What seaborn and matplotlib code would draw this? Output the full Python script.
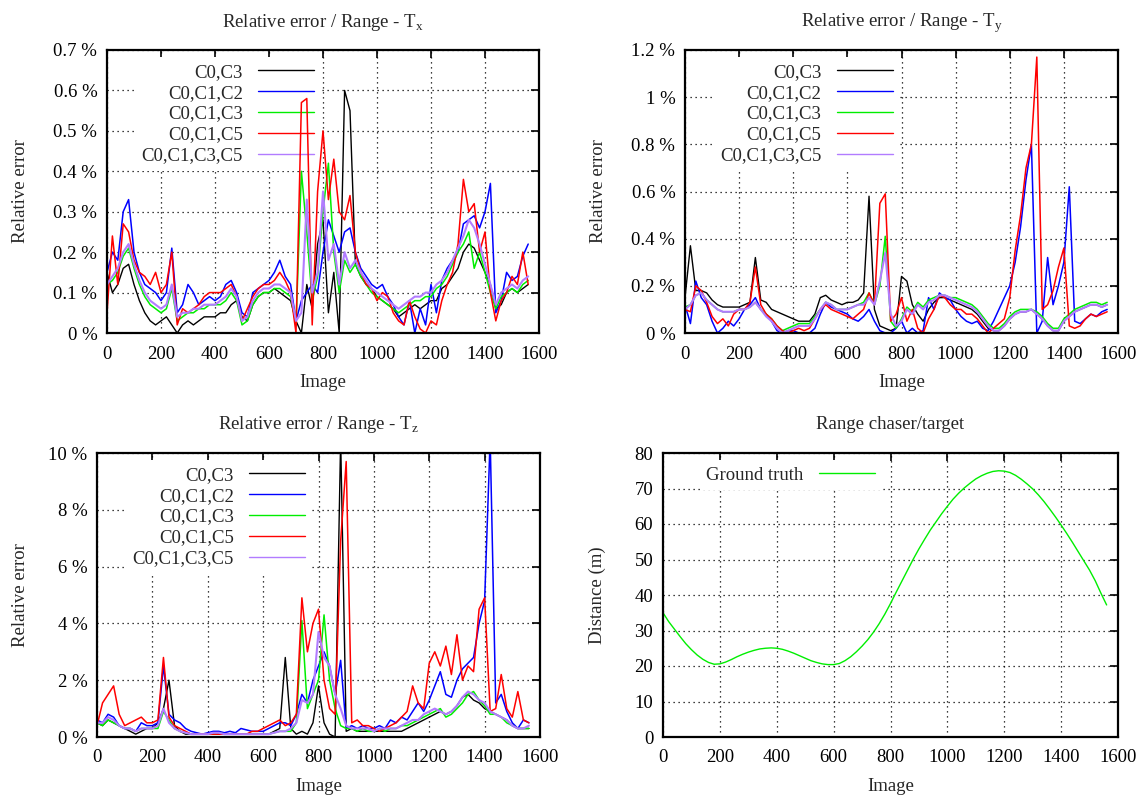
import numpy as np
import matplotlib
matplotlib.use('Agg')
import matplotlib.pyplot as plt
from matplotlib.ticker import FuncFormatter, MultipleLocator
import seaborn as sns

# image index, one sample every 20 images
IMAGE = np.arange(0, 1580, 20)

METHODS = ['C0,C3', 'C0,C1,C2', 'C0,C1,C3', 'C0,C1,C5', 'C0,C1,C3,C5']
COLORS = ['#000000', '#0000ff', '#00ee00', '#ff0000', '#b27cff']
WIDTHS = [1.0, 1.1, 1.1, 1.1, 1.5]

# Relative error / Range - Tx (%)
tx_c0c3 = [0.15, 0.10, 0.12, 0.16, 0.17, 0.12, 0.08, 0.05, 0.03, 0.02,
           0.03, 0.04, 0.02, 0.00, 0.02, 0.03, 0.02, 0.03, 0.04, 0.04,
           0.04, 0.05, 0.05, 0.07, 0.08, 0.04, 0.03, 0.07, 0.09, 0.10,
           0.10, 0.11, 0.10, 0.09, 0.08, 0.03, 0.00, 0.12, 0.06, 0.22,
           0.28, 0.05, 0.15, 0.00, 0.60, 0.55, 0.17, 0.14, 0.12, 0.11,
           0.09, 0.08, 0.07, 0.06, 0.04, 0.05, 0.06, 0.07, 0.06, 0.07,
           0.08, 0.08, 0.11, 0.12, 0.14, 0.16, 0.20, 0.22, 0.21, 0.18,
           0.15, 0.12, 0.06, 0.07, 0.10, 0.11, 0.10, 0.11, 0.12]
tx_c0c1c2 = [0.15, 0.20, 0.18, 0.30, 0.33, 0.20, 0.15, 0.12, 0.11, 0.10,
             0.08, 0.10, 0.21, 0.05, 0.07, 0.12, 0.10, 0.07, 0.08, 0.09,
             0.08, 0.09, 0.12, 0.13, 0.10, 0.05, 0.04, 0.10, 0.11, 0.12,
             0.13, 0.15, 0.18, 0.14, 0.12, 0.03, 0.08, 0.10, 0.12, 0.10,
             0.20, 0.28, 0.24, 0.20, 0.25, 0.26, 0.20, 0.16, 0.14, 0.12,
             0.11, 0.12, 0.09, 0.07, 0.04, 0.02, 0.08, 0.00, 0.06, 0.02,
             0.12, 0.05, 0.13, 0.16, 0.18, 0.20, 0.27, 0.28, 0.29, 0.26,
             0.30, 0.37, 0.05, 0.08, 0.15, 0.13, 0.14, 0.19, 0.22]
tx_c0c1c3 = [0.12, 0.13, 0.15, 0.19, 0.21, 0.16, 0.12, 0.09, 0.07, 0.06,
             0.05, 0.06, 0.11, 0.03, 0.04, 0.05, 0.05, 0.06, 0.06, 0.07,
             0.07, 0.07, 0.08, 0.10, 0.08, 0.02, 0.03, 0.07, 0.09, 0.10,
             0.10, 0.11, 0.11, 0.10, 0.09, 0.02, 0.40, 0.25, 0.08, 0.14,
             0.30, 0.42, 0.20, 0.10, 0.18, 0.15, 0.17, 0.14, 0.12, 0.10,
             0.09, 0.08, 0.07, 0.06, 0.05, 0.06, 0.07, 0.08, 0.08, 0.09,
             0.09, 0.11, 0.12, 0.14, 0.17, 0.20, 0.22, 0.25, 0.16, 0.20,
             0.15, 0.10, 0.06, 0.09, 0.10, 0.11, 0.10, 0.12, 0.13]
tx_c0c1c5 = [0.05, 0.24, 0.12, 0.27, 0.25, 0.18, 0.15, 0.14, 0.12, 0.15,
             0.10, 0.12, 0.20, 0.02, 0.06, 0.05, 0.06, 0.07, 0.09, 0.10,
             0.10, 0.10, 0.11, 0.12, 0.09, 0.03, 0.06, 0.09, 0.11, 0.12,
             0.12, 0.13, 0.15, 0.13, 0.10, 0.00, 0.57, 0.58, 0.02, 0.35,
             0.50, 0.33, 0.43, 0.30, 0.28, 0.34, 0.20, 0.15, 0.12, 0.11,
             0.08, 0.10, 0.09, 0.05, 0.03, 0.02, 0.08, 0.04, 0.01, 0.00,
             0.03, 0.02, 0.08, 0.12, 0.15, 0.22, 0.38, 0.30, 0.32, 0.20,
             0.25, 0.10, 0.03, 0.08, 0.10, 0.14, 0.12, 0.20, 0.12]
tx_c0c1c3c5 = [0.12, 0.14, 0.16, 0.20, 0.22, 0.17, 0.13, 0.10, 0.08, 0.07,
               0.06, 0.07, 0.12, 0.04, 0.05, 0.05, 0.06, 0.06, 0.07, 0.07,
               0.07, 0.08, 0.09, 0.11, 0.09, 0.03, 0.04, 0.08, 0.10, 0.11,
               0.11, 0.12, 0.12, 0.11, 0.10, 0.03, 0.05, 0.33, 0.10, 0.15,
               0.35, 0.18, 0.22, 0.12, 0.20, 0.16, 0.18, 0.15, 0.13, 0.11,
               0.10, 0.09, 0.08, 0.07, 0.06, 0.07, 0.08, 0.09, 0.09, 0.10,
               0.10, 0.12, 0.13, 0.15, 0.18, 0.21, 0.24, 0.28, 0.26, 0.22,
               0.17, 0.12, 0.07, 0.10, 0.11, 0.12, 0.11, 0.13, 0.14]

# Relative error / Range - Ty (%)
ty_c0c3 = [0.15, 0.37, 0.18, 0.18, 0.17, 0.14, 0.12, 0.11, 0.11, 0.11,
           0.11, 0.12, 0.13, 0.32, 0.14, 0.13, 0.10, 0.09, 0.08, 0.07,
           0.06, 0.05, 0.05, 0.05, 0.08, 0.15, 0.16, 0.14, 0.13, 0.12,
           0.13, 0.13, 0.14, 0.17, 0.58, 0.10, 0.03, 0.02, 0.01, 0.02,
           0.24, 0.22, 0.12, 0.08, 0.05, 0.10, 0.13, 0.15, 0.15, 0.14,
           0.13, 0.12, 0.11, 0.10, 0.08, 0.05, 0.02, 0.01, 0.01, 0.03,
           0.06, 0.08, 0.09, 0.09, 0.10, 0.08, 0.06, 0.03, 0.01, 0.01,
           0.05, 0.07, 0.09, 0.10, 0.11, 0.12, 0.12, 0.11, 0.12]
ty_c0c1c2 = [0.12, 0.04, 0.22, 0.15, 0.12, 0.05, 0.00, 0.02, 0.05, 0.03,
             0.06, 0.10, 0.12, 0.15, 0.10, 0.08, 0.05, 0.01, 0.00, 0.01,
             0.01, 0.00, 0.00, 0.00, 0.02, 0.08, 0.13, 0.11, 0.10, 0.09,
             0.08, 0.06, 0.05, 0.07, 0.10, 0.05, 0.01, 0.00, 0.00, 0.02,
             0.05, 0.00, 0.02, 0.00, 0.01, 0.15, 0.10, 0.17, 0.15, 0.14,
             0.10, 0.07, 0.05, 0.04, 0.05, 0.02, 0.01, 0.05, 0.10, 0.15,
             0.20, 0.30, 0.45, 0.65, 0.80, 0.00, 0.05, 0.32, 0.12, 0.20,
             0.30, 0.62, 0.05, 0.04, 0.06, 0.08, 0.07, 0.09, 0.10]
ty_c0c1c3 = [0.11, 0.12, 0.16, 0.17, 0.14, 0.12, 0.10, 0.09, 0.09, 0.09,
             0.10, 0.10, 0.11, 0.13, 0.10, 0.08, 0.06, 0.03, 0.01, 0.02,
             0.03, 0.04, 0.04, 0.04, 0.07, 0.10, 0.13, 0.12, 0.10, 0.10,
             0.10, 0.11, 0.12, 0.13, 0.17, 0.12, 0.20, 0.41, 0.05, 0.02,
             0.06, 0.11, 0.09, 0.13, 0.11, 0.14, 0.15, 0.16, 0.16, 0.15,
             0.15, 0.14, 0.13, 0.12, 0.10, 0.07, 0.04, 0.02, 0.02, 0.04,
             0.07, 0.09, 0.10, 0.10, 0.10, 0.09, 0.07, 0.04, 0.02, 0.02,
             0.06, 0.08, 0.10, 0.11, 0.12, 0.13, 0.13, 0.12, 0.13]
ty_c0c1c5 = [0.10, 0.09, 0.20, 0.18, 0.13, 0.07, 0.04, 0.06, 0.03, 0.08,
             0.10, 0.10, 0.13, 0.28, 0.12, 0.08, 0.06, 0.03, 0.01, 0.00,
             0.01, 0.02, 0.01, 0.02, 0.06, 0.10, 0.12, 0.10, 0.09, 0.08,
             0.07, 0.06, 0.08, 0.10, 0.17, 0.12, 0.55, 0.59, 0.05, 0.08,
             0.15, 0.05, 0.10, 0.02, 0.00, 0.06, 0.10, 0.16, 0.15, 0.12,
             0.10, 0.10, 0.08, 0.08, 0.06, 0.03, 0.00, 0.02, 0.04, 0.06,
             0.15, 0.35, 0.50, 0.70, 0.80, 1.17, 0.10, 0.12, 0.18, 0.28,
             0.36, 0.03, 0.02, 0.03, 0.06, 0.08, 0.07, 0.08, 0.09]
ty_c0c1c3c5 = [0.10, 0.12, 0.16, 0.17, 0.14, 0.12, 0.10, 0.09, 0.09, 0.09,
               0.10, 0.10, 0.11, 0.13, 0.10, 0.07, 0.05, 0.02, 0.00, 0.01,
               0.02, 0.03, 0.03, 0.03, 0.06, 0.10, 0.13, 0.12, 0.10, 0.10,
               0.10, 0.11, 0.12, 0.12, 0.15, 0.12, 0.22, 0.34, 0.08, 0.03,
               0.05, 0.10, 0.08, 0.12, 0.10, 0.13, 0.14, 0.16, 0.16, 0.15,
               0.14, 0.13, 0.12, 0.11, 0.09, 0.06, 0.03, 0.01, 0.01, 0.03,
               0.06, 0.08, 0.09, 0.09, 0.10, 0.08, 0.06, 0.03, 0.01, 0.01,
               0.05, 0.07, 0.09, 0.10, 0.11, 0.12, 0.12, 0.11, 0.12]

# Relative error / Range - Tz (%)
tz_c0c3 = [0.5, 0.4, 0.6, 0.5, 0.4, 0.3, 0.2, 0.1, 0.2, 0.3,
           0.3, 0.5, 1.0, 2.0, 0.4, 0.2, 0.1, 0.1, 0.1, 0.1,
           0.1, 0.1, 0.1, 0.1, 0.1, 0.1, 0.1, 0.1, 0.1, 0.1,
           0.1, 0.1, 0.2, 0.3, 2.8, 0.3, 0.1, 0.2, 0.1, 0.5,
           1.8, 0.5, 0.1, 0.0, 10.5, 0.2, 0.3, 0.2, 0.2, 0.2,
           0.2, 0.2, 0.2, 0.2, 0.2, 0.2, 0.3, 0.4, 0.5, 0.6,
           0.7, 0.8, 0.9, 0.8, 0.9, 1.1, 1.4, 1.5, 1.3, 1.2,
           1.0, 0.9, 0.8, 0.7, 0.6, 0.4, 0.3, 0.3, 0.3]
tz_c0c1c2 = [0.6, 0.5, 0.8, 0.7, 0.4, 0.3, 0.3, 0.2, 0.5, 0.4,
             0.4, 0.5, 2.5, 0.8, 0.6, 0.5, 0.3, 0.2, 0.15, 0.1,
             0.15, 0.2, 0.2, 0.15, 0.2, 0.15, 0.3, 0.25, 0.2, 0.2,
             0.2, 0.3, 0.4, 0.5, 0.5, 0.4, 0.8, 1.5, 1.2, 2.0,
             2.5, 3.0, 2.5, 1.5, 2.7, 0.3, 0.4, 0.3, 0.4, 0.3,
             0.3, 0.4, 0.3, 0.6, 0.5, 0.7, 0.6, 0.9, 1.2, 0.9,
             1.3, 1.8, 2.3, 1.5, 1.4, 2.0, 2.4, 2.6, 2.8, 4.0,
             4.8, 10.5, 1.2, 1.5, 0.9, 0.5, 0.3, 0.6, 0.5]
tz_c0c1c3 = [0.5, 0.4, 0.6, 0.5, 0.4, 0.3, 0.3, 0.2, 0.3, 0.3,
             0.3, 0.3, 0.9, 0.6, 0.3, 0.2, 0.15, 0.1, 0.1, 0.1,
             0.1, 0.1, 0.15, 0.1, 0.1, 0.1, 0.1, 0.1, 0.1, 0.1,
             0.1, 0.1, 0.15, 0.2, 0.2, 0.2, 0.5, 4.1, 1.0, 1.5,
             2.0, 4.3, 2.0, 1.0, 0.4, 0.3, 0.3, 0.2, 0.3, 0.2,
             0.2, 0.3, 0.2, 0.3, 0.3, 0.4, 0.4, 0.5, 0.6, 0.7,
             0.8, 0.9, 1.0, 0.7, 0.8, 1.0, 1.2, 1.5, 1.6, 1.3,
             1.1, 0.8, 0.8, 0.7, 0.5, 0.4, 0.3, 0.3, 0.3]
tz_c0c1c5 = [0.4, 1.2, 1.5, 1.8, 0.8, 0.4, 0.5, 0.6, 0.7, 0.5,
             0.5, 0.6, 2.8, 0.7, 0.4, 0.3, 0.2, 0.1, 0.1, 0.1,
             0.1, 0.1, 0.1, 0.1, 0.1, 0.1, 0.1, 0.1, 0.2, 0.2,
             0.3, 0.4, 0.5, 0.6, 0.4, 0.5, 0.8, 4.9, 3.0, 4.0,
             4.5, 2.0, 1.0, 0.8, 6.9, 9.7, 0.5, 0.6, 0.4, 0.4,
             0.3, 0.2, 0.3, 0.4, 0.5, 0.7, 0.9, 1.8, 1.2, 1.0,
             2.6, 3.0, 2.5, 3.2, 2.2, 3.6, 2.0, 2.5, 2.3, 4.5,
             4.9, 0.9, 1.0, 2.2, 1.0, 0.7, 1.6, 0.6, 0.5]
tz_c0c1c3c5 = [0.5, 0.5, 0.7, 0.6, 0.4, 0.3, 0.3, 0.2, 0.3, 0.3,
               0.3, 0.4, 1.0, 0.5, 0.3, 0.2, 0.15, 0.1, 0.1, 0.1,
               0.1, 0.15, 0.15, 0.1, 0.1, 0.1, 0.1, 0.1, 0.1, 0.1,
               0.1, 0.1, 0.15, 0.2, 0.2, 0.3, 0.5, 1.3, 1.2, 1.5,
               3.7, 2.8, 2.5, 1.5, 1.0, 0.4, 0.3, 0.3, 0.3, 0.3,
               0.2, 0.3, 0.3, 0.3, 0.3, 0.4, 0.5, 0.6, 0.6, 0.8,
               0.9, 1.0, 0.9, 0.8, 0.9, 1.1, 1.4, 1.6, 1.5, 1.3,
               1.2, 0.9, 0.8, 0.7, 0.6, 0.4, 0.3, 0.3, 0.4]

# Range chaser/target (m)
ground_truth = [35.0, 32.5, 30.4, 28.3, 26.3, 24.6, 23.1, 21.9, 21.0, 20.5,
                20.6, 21.1, 21.8, 22.6, 23.3, 23.9, 24.4, 24.8, 25.0, 25.1,
                25.0, 24.7, 24.2, 23.6, 22.9, 22.2, 21.5, 21.0, 20.6, 20.4,
                20.4, 20.7, 21.5, 22.6, 24.0, 25.6, 27.4, 29.5, 31.9, 34.6,
                37.6, 40.8, 43.9, 47.0, 50.1, 53.0, 55.7, 58.3, 60.6, 62.9,
                65.0, 67.0, 68.7, 70.2, 71.5, 72.7, 73.6, 74.3, 74.8, 75.0,
                74.9, 74.5, 73.7, 72.6, 71.3, 69.9, 68.2, 66.3, 64.2, 62.0,
                59.7, 57.3, 54.8, 52.2, 49.6, 47.0, 44.0, 40.5, 37.2]

sns.set_theme(style='white')
plt.rcParams['font.family'] = ['Liberation Serif', 'DejaVu Serif']
plt.rcParams['mathtext.fontset'] = 'custom'
plt.rcParams['mathtext.rm'] = 'Liberation Serif'
plt.rcParams['font.size'] = 13.5

fig = plt.figure(figsize=(11.42, 7.99), dpi=100)

W, H = 1142, 799


def make_axes(left, right, top, bottom):
    return fig.add_axes([left / W, 1 - bottom / H, (right - left) / W, (bottom - top) / H])


def style_axes(ax, ymax, ystep, title, ylabel, pct, ylab_x, leg_x):
    ax.set_xlim(0, 1600)
    ax.set_ylim(0, ymax)
    ax.xaxis.set_major_locator(MultipleLocator(200))
    ax.yaxis.set_major_locator(MultipleLocator(ystep))
    if pct:
        ax.yaxis.set_major_formatter(FuncFormatter(lambda v, p: '%g %%' % round(v, 3)))
    else:
        ax.yaxis.set_major_formatter(FuncFormatter(lambda v, p: '%g' % v))
    ax.tick_params(direction='in', top=True, right=True, length=6, width=1.2,
                   labelsize=13.5, pad=7, colors='black')
    ax.tick_params(axis='x', pad=9)
    ax.set_axisbelow(True)
    ax.grid(True, color='black', linestyle=(0, (1, 3)), linewidth=0.9)
    for s in ax.spines.values():
        s.set_linewidth(1.6)
        s.set_color('black')
    ax.set_xlabel('Image', fontsize=13.5)
    ax.set_ylabel(ylabel, fontsize=13.5)
    ax.xaxis.set_label_coords(0.5, -0.145)
    ax.yaxis.set_label_coords(ylab_x, 0.5)
    ax.text(0.5, 1.083, title, transform=ax.transAxes, ha='center', va='baseline',
            fontsize=13.5)
    leg = ax.legend(loc='upper right', bbox_to_anchor=(leg_x, 0.975), markerfirst=False,
                    frameon=True, fancybox=False, framealpha=1, facecolor='white',
                    edgecolor='none', borderpad=0.35, handlelength=3.0,
                    handletextpad=0.8, labelspacing=0.2, fontsize=13.5, borderaxespad=0)
    for line in leg.get_lines():
        line.set_linewidth(1.0)
    leg.set_zorder(1)


panels = [
    ((107, 539, 50, 333), [tx_c0c3, tx_c0c1c2, tx_c0c1c3, tx_c0c1c5, tx_c0c1c3c5],
     0.7, 0.1, r'Relative error / Range - T$_{\mathrm{x}}$', -0.18, 0.495),
    ((685, 1118, 50, 333), [ty_c0c3, ty_c0c1c2, ty_c0c1c3, ty_c0c1c5, ty_c0c1c3c5],
     1.2, 0.2, r'Relative error / Range - T$_{\mathrm{y}}$', -0.18, 0.495),
    ((97, 540, 453, 737), [tz_c0c3, tz_c0c1c2, tz_c0c1c3, tz_c0c1c5, tz_c0c1c3c5],
     10, 2, r'Relative error / Range - T$_{\mathrm{z}}$', -0.153, 0.485),
]

for box, series, ymax, ystep, title, ylab_x, leg_x in panels:
    ax = make_axes(*box)
    for name, color, lw, vals in zip(METHODS, COLORS, WIDTHS, series):
        sns.lineplot(x=IMAGE, y=vals, ax=ax, color=color, linewidth=lw, label=name,
                     zorder=2)
    style_axes(ax, ymax, ystep, title, 'Relative error', True, ylab_x, leg_x)

ax = make_axes(663, 1118, 453, 737)
sns.lineplot(x=IMAGE, y=ground_truth, ax=ax, color='#00ee00', linewidth=1.0,
             label='Ground truth', zorder=2)
style_axes(ax, 80, 10, 'Range chaser/target', 'Distance (m)', False, -0.125, 0.48)

fig.savefig('out.png', dpi=100)
